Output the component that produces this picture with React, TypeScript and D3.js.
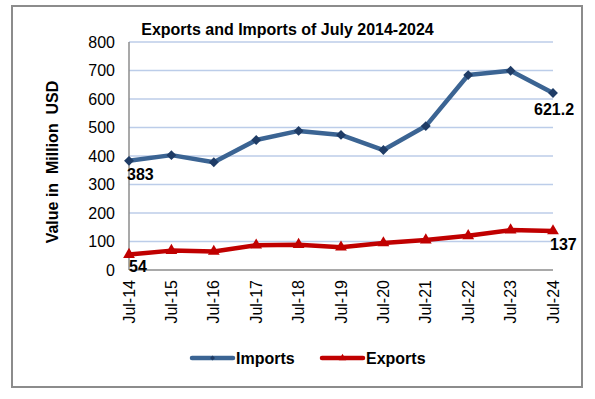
import React, { useRef, useEffect } from 'react';
import * as d3 from 'd3';

const categories = ['Jul-14', 'Jul-15', 'Jul-16', 'Jul-17', 'Jul-18', 'Jul-19', 'Jul-20', 'Jul-21', 'Jul-22', 'Jul-23', 'Jul-24'];
const imports = [383, 403, 378, 456, 488, 474, 421, 505, 684, 699, 621.2];
const exportsData = [54, 68, 65, 87, 89, 80, 95, 105, 120, 140, 137];
const yTicks = [0, 100, 200, 300, 400, 500, 600, 700, 800];

const App = () => {
    const svgRef = useRef(null);

    useEffect(() => {
        const W = 595, H = 399;
        const margin = { top: 42, right: 42, bottom: 129, left: 129 };
        const width = W - margin.left - margin.right;
        const height = H - margin.top - margin.bottom;

        const svg = d3.select(svgRef.current);
        svg.selectAll("*").remove();
        svg.attr("width", W).attr("height", H);

        svg.append("rect")
            .attr("x", 0).attr("y", 0).attr("width", W).attr("height", H)
            .attr("fill", "#fff");

        // outer frame
        svg.append("rect")
            .attr("x", 12).attr("y", 6).attr("width", 570).attr("height", 381)
            .attr("fill", "none")
            .attr("stroke", "#8c8c8c")
            .attr("stroke-width", 2);

        const g = svg.append("g")
            .attr("transform", `translate(${margin.left},${margin.top})`);

        const x = d3.scalePoint()
            .domain(categories)
            .range([0, width]);

        const y = d3.scaleLinear()
            .domain([0, 800])
            .range([height, 0]);

        // gridlines
        g.selectAll(".grid")
            .data(yTicks.filter(d => d > 0))
            .enter().append("line")
            .attr("x1", 0).attr("x2", width)
            .attr("y1", d => y(d)).attr("y2", d => y(d))
            .attr("stroke", "#bccde9")
            .attr("stroke-width", 1.5);

        // axes lines
        g.append("line")
            .attr("x1", 0).attr("x2", 0).attr("y1", 0).attr("y2", height)
            .attr("stroke", "#8c8c8c").attr("stroke-width", 1.5);
        g.append("line")
            .attr("x1", 0).attr("x2", width).attr("y1", height).attr("y2", height)
            .attr("stroke", "#8c8c8c").attr("stroke-width", 1.5);

        const font = "Arial, 'Liberation Sans', sans-serif";

        // y tick labels
        g.selectAll(".ytick")
            .data(yTicks)
            .enter().append("text")
            .attr("x", -14)
            .attr("y", d => y(d))
            .attr("dy", "0.35em")
            .attr("text-anchor", "end")
            .style("font-family", font)
            .style("font-size", "16px")
            .style("fill", "#000")
            .text(d => d);

        // x tick labels
        g.selectAll(".xtick")
            .data(categories)
            .enter().append("text")
            .attr("transform", d => `translate(${x(d)},${height + 10}) rotate(-90)`)
            .attr("dy", "0.35em")
            .attr("text-anchor", "end")
            .style("font-family", font)
            .style("font-size", "16px")
            .style("fill", "#000")
            .text(d => d);

        const line = d3.line()
            .x((d, i) => x(categories[i]))
            .y(d => y(d));

        // imports
        g.append("path")
            .datum(imports)
            .attr("fill", "none")
            .attr("stroke", "#3b6493")
            .attr("stroke-width", 4.5)
            .attr("stroke-linejoin", "round")
            .attr("d", line);

        g.selectAll(".imp")
            .data(imports)
            .enter().append("path")
            .attr("transform", (d, i) => `translate(${x(categories[i])},${y(d)})`)
            .attr("d", d3.symbol().type(d3.symbolDiamond2).size(62))
            .attr("fill", "#1f3c66");

        // exports
        g.append("path")
            .datum(exportsData)
            .attr("fill", "none")
            .attr("stroke", "#c00000")
            .attr("stroke-width", 4.5)
            .attr("stroke-linejoin", "round")
            .attr("d", line);

        g.selectAll(".exp")
            .data(exportsData)
            .enter().append("path")
            .attr("transform", (d, i) => `translate(${x(categories[i])},${y(d)})`)
            .attr("d", d3.symbol().type(d3.symbolTriangle).size(60))
            .attr("fill", "#c00000");

        // data labels
        const labelStyle = sel => sel
            .style("font-family", font)
            .style("font-size", "16px")
            .style("font-weight", "bold")
            .style("fill", "#000");

        const last = categories.length - 1;
        g.append("text")
            .attr("x", x(categories[0]) - 2)
            .attr("y", y(imports[0]) + 19)
            .call(labelStyle)
            .text(imports[0]);
        g.append("text")
            .attr("x", x(categories[last]) - 19)
            .attr("y", y(imports[last]) + 22)
            .call(labelStyle)
            .text(imports[last]);
        g.append("text")
            .attr("x", x(categories[0]))
            .attr("y", y(exportsData[0]) + 17)
            .call(labelStyle)
            .text(exportsData[0]);
        g.append("text")
            .attr("x", x(categories[last]) - 3)
            .attr("y", y(exportsData[last]) + 19)
            .call(labelStyle)
            .text(exportsData[last]);

        // title
        svg.append("text")
            .attr("x", 287.5)
            .attr("y", 35)
            .attr("text-anchor", "middle")
            .style("font-family", font)
            .style("font-size", "16px")
            .style("font-weight", "bold")
            .style("fill", "#000")
            .text("Exports and Imports of July 2014-2024");

        // y axis title
        svg.append("text")
            .attr("transform", "translate(58,162) rotate(-90)")
            .attr("text-anchor", "middle")
            .style("font-family", font)
            .style("font-size", "16px")
            .style("font-weight", "bold")
            .style("fill", "#000")
            .style("white-space", "pre")
            .text("Value in  Million  USD");

        // legend
        const legend = [
            { name: "Imports", color: "#3b6493", mark: "#1f3c66", sym: d3.symbolDiamond2, size: 16, x: 192 },
            { name: "Exports", color: "#c00000", mark: "#c00000", sym: d3.symbolTriangle, size: 24, x: 322 }
        ];
        const lg = svg.selectAll(".legend")
            .data(legend)
            .enter().append("g")
            .attr("transform", d => `translate(${d.x},358)`);
        lg.append("line")
            .attr("x1", 0).attr("x2", 41)
            .attr("stroke", d => d.color)
            .attr("stroke-width", 4.5)
            .attr("stroke-linecap", "round");
        lg.append("path")
            .attr("transform", "translate(20.5,0)")
            .attr("d", d => d3.symbol().type(d.sym).size(d.size)())
            .attr("fill", d => d.mark);
        lg.append("text")
            .attr("x", 44)
            .attr("dy", "0.35em")
            .style("font-family", font)
            .style("font-size", "16px")
            .style("font-weight", "bold")
            .style("fill", "#000")
            .text(d => d.name);
    }, []);

    return (
        <svg ref={svgRef} style={{ position: 'absolute', left: 0, top: 0 }}></svg>
    );
};

export default App;
